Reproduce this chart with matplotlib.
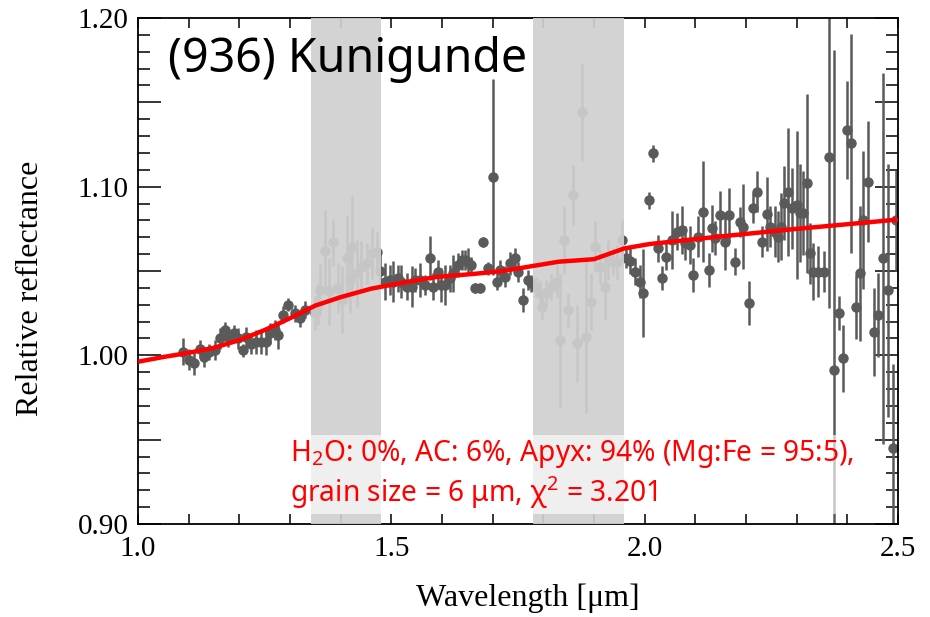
import matplotlib
matplotlib.use("Agg")
import matplotlib.pyplot as plt
import numpy as np
from matplotlib.ticker import MultipleLocator, FuncFormatter

plt.rcParams['mathtext.fontset'] = 'custom'
plt.rcParams['mathtext.rm'] = 'Noto Sans'
plt.rcParams['mathtext.it'] = 'Noto Sans:italic'

# ---------------- data ----------------
wavelength = [
    1.089, 1.101, 1.111, 1.122, 1.131, 1.141, 1.151, 1.161, 1.171, 1.178,
    1.190, 1.197, 1.207, 1.214, 1.224, 1.233, 1.243, 1.253, 1.260, 1.270,
    1.276, 1.286, 1.296, 1.309, 1.319, 1.329,
    1.349, 1.355, 1.359, 1.369, 1.376, 1.385, 1.395, 1.402, 1.412, 1.418,
    1.422, 1.432, 1.441, 1.451, 1.461, 1.471, 1.478,
    1.4875, 1.497, 1.504, 1.514, 1.520, 1.530, 1.540, 1.546, 1.556, 1.566,
    1.576, 1.583, 1.593, 1.599, 1.606, 1.616, 1.622, 1.632, 1.639, 1.645,
    1.652, 1.658, 1.665, 1.675, 1.681, 1.691, 1.701, 1.708, 1.714, 1.724,
    1.734, 1.744, 1.750, 1.760, 1.770, 1.776,
    1.785, 1.793, 1.797, 1.806, 1.816, 1.826, 1.833, 1.841, 1.849, 1.859,
    1.867, 1.877, 1.885, 1.895, 1.902, 1.912, 1.922, 1.928, 1.938, 1.945,
    1.955,
    1.964, 1.971, 1.981, 1.991, 1.997, 2.009, 2.017, 2.027, 2.035, 2.043,
    2.053, 2.063, 2.073, 2.080, 2.089, 2.096, 2.106, 2.116, 2.126, 2.132,
    2.139, 2.149, 2.159, 2.167, 2.178, 2.188, 2.195, 2.205, 2.214, 2.221,
    2.231, 2.241, 2.247, 2.257, 2.264, 2.270, 2.275, 2.283, 2.290, 2.300,
    2.306, 2.313, 2.320, 2.326, 2.333, 2.343, 2.353, 2.364, 2.373, 2.383,
    2.391, 2.400, 2.408, 2.417, 2.425, 2.431, 2.441, 2.453, 2.461, 2.471,
    2.481, 2.491, 2.497,
]
reflectance = [
    1.0022, 0.9975, 0.9955, 1.0040, 0.9990, 1.0020, 1.0030, 1.0100, 1.0150, 1.0110,
    1.0130, 1.0100, 1.0030, 1.0110, 1.0070, 1.0080, 1.0080, 1.0080, 1.0130, 1.0150,
    1.0120, 1.0240, 1.0300, 1.0250, 1.0220, 1.0270,
    1.0250, 1.0300, 1.0390, 1.0620, 1.0380, 1.0670, 1.0400, 1.0330, 1.0580, 1.0450,
    1.0645, 1.0486, 1.0525, 1.0545, 1.0605, 1.0614, 1.0500,
    1.0437, 1.0447, 1.0437, 1.0457, 1.0437, 1.0407, 1.0407, 1.0447, 1.0447, 1.0417,
    1.0575, 1.0407, 1.0496, 1.0417, 1.0417, 1.0457, 1.0486, 1.0535, 1.0565, 1.0565,
    1.0555, 1.0535, 1.0397, 1.0397, 1.0674, 1.0516, 1.1059, 1.0437, 1.0506, 1.0467,
    1.0545, 1.0575, 1.0496, 1.0328, 1.0447, 1.0427,
    1.0407, 1.0368, 1.0288, 1.0368, 1.0407, 1.0437, 1.0090, 1.0684, 1.0269, 1.0951,
    1.0071, 1.1444, 1.0110, 1.0318, 1.0644, 1.0525, 1.0407, 1.0565, 1.0555, 1.0555,
    1.0684,
    1.0575, 1.0560, 1.0496, 1.0437, 1.0368, 1.0920, 1.1198, 1.0634, 1.0457, 1.0585,
    1.0684, 1.0733, 1.0743, 1.0664, 1.0654, 1.0476, 1.0704, 1.0852, 1.0506, 1.0753,
    1.0694, 1.0832, 1.0674, 1.0832, 1.0555, 1.0792, 1.0763, 1.0309, 1.0872, 1.0970,
    1.0674, 1.0838, 1.0763, 1.0733, 1.0704, 1.0763, 1.0905, 1.0970, 1.0872, 1.0891,
    1.0842, 1.0842, 1.1020, 1.0605, 1.0496, 1.0496, 1.0496, 1.1178, 0.9913, 1.0249,
    0.9982, 1.1336, 1.1257, 1.0289, 1.0486, 1.0802, 1.1030, 1.0140, 1.0239, 1.0575,
    1.0387, 0.9450, 1.0800,
]
error = [
    0.008, 0.006, 0.007, 0.005, 0.006, 0.005, 0.006, 0.006, 0.005, 0.006,
    0.005, 0.006, 0.004, 0.006, 0.006, 0.007, 0.007, 0.008, 0.006, 0.006,
    0.008, 0.005, 0.004, 0.005, 0.005, 0.005,
    0.010, 0.012, 0.015, 0.024, 0.020, 0.014, 0.015, 0.020, 0.025, 0.020,
    0.030, 0.020, 0.015, 0.012, 0.015, 0.012, 0.010,
    0.011, 0.009, 0.012, 0.008, 0.010, 0.008, 0.012, 0.007, 0.010, 0.006,
    0.013, 0.008, 0.007, 0.010, 0.012, 0.008, 0.011, 0.007, 0.006, 0.006,
    0.008, 0.005, 0.003, 0.003, 0.003, 0.004, 0.058, 0.005, 0.006, 0.006,
    0.007, 0.006, 0.006, 0.007, 0.006, 0.005,
    0.006, 0.008, 0.008, 0.008, 0.008, 0.010, 0.040, 0.020, 0.010, 0.018,
    0.023, 0.029, 0.045, 0.017, 0.015, 0.010, 0.020, 0.012, 0.008, 0.010,
    0.012,
    0.006, 0.008, 0.008, 0.010, 0.026, 0.005, 0.005, 0.008, 0.007, 0.008,
    0.017, 0.011, 0.014, 0.010, 0.011, 0.010, 0.012, 0.030, 0.010, 0.014,
    0.010, 0.014, 0.017, 0.016, 0.008, 0.009, 0.025, 0.013, 0.009, 0.012,
    0.009, 0.022, 0.012, 0.015, 0.015, 0.020, 0.022, 0.038, 0.024, 0.044,
    0.029, 0.025, 0.053, 0.018, 0.017, 0.015, 0.012, 0.090, 0.190, 0.010,
    0.020, 0.029, 0.065, 0.019, 0.040, 0.041, 0.036, 0.026, 0.025, 0.110,
    0.075, 0.050, 0.030,
]

model_wavelength = [1.00, 1.05, 1.10, 1.15, 1.20, 1.25, 1.30, 1.35, 1.40, 1.46,
                    1.53, 1.59, 1.66, 1.72, 1.79, 1.83, 1.90, 1.96, 2.01, 2.15,
                    2.29, 2.50]
model_reflectance = [0.9962, 0.9990, 1.0015, 1.0045, 1.0090, 1.0150, 1.0220, 1.0295,
                     1.0345, 1.0395, 1.0435, 1.0465, 1.0482, 1.0500, 1.0535, 1.0555,
                     1.0570, 1.0634, 1.0660, 1.0705, 1.0747, 1.0805]

bands = [(1.341, 1.480), (1.779, 1.959)]

title = "(936) Kunigunde"
annotation = ("H$_2$O: 0%, AC: 6%, Apyx: 94% (Mg:Fe = 95:5),\n"
              "grain size = 6 \u03bcm, \u03c7$^2$ = 3.201")

# ---------------- figure ----------------
fig = plt.figure(figsize=(9.30, 6.17), dpi=100)
ax = fig.add_axes([138/930, 1-524/617, 760/930, 506/617])

ax.errorbar(wavelength, reflectance, yerr=error, fmt='o', color='#5a5a5a',
            ecolor='#5a5a5a', elinewidth=1.8, markersize=6.5, capsize=0, zorder=2)

for lo, hi in bands:
    ax.axvspan(lo, hi, color='#d0d0d0', alpha=0.92, lw=0, zorder=3)

ax.plot(model_wavelength, model_reflectance, color='red', lw=3.2, zorder=5,
        solid_capstyle='butt')

ax.set_xlim(1.0, 2.5)
ax.set_ylim(0.90, 1.20)

serif = 'Liberation Serif'
ax.xaxis.set_major_locator(MultipleLocator(0.5))
ax.xaxis.set_minor_locator(MultipleLocator(0.1))
ax.yaxis.set_major_locator(MultipleLocator(0.05))
ax.yaxis.set_minor_locator(MultipleLocator(0.01))
ax.xaxis.set_major_formatter(FuncFormatter(lambda v, p: f"{v:.1f}"))
def yfmt(v, p):
    k = int(round(v * 100))
    return f"{v:.2f}" if k % 10 == 0 else ""
ax.yaxis.set_major_formatter(FuncFormatter(yfmt))

ax.tick_params(axis='x', which='both', direction='in', top=True, bottom=True,
               length=7.5, width=1.1, labelsize=21, pad=9)
ax.tick_params(axis='y', which='major', direction='in', left=True, right=True,
               length=16.5, width=1.1, labelsize=21, pad=7)
ax.tick_params(axis='y', which='minor', direction='in', left=True, right=True,
               length=8.6, width=1.1)
for lab in ax.get_xticklabels() + ax.get_yticklabels():
    lab.set_fontfamily(serif)
for s in ax.spines.values():
    s.set_linewidth(1.3)

ax.text(0.0395, 0.964, title, transform=ax.transAxes, ha='left', va='top',
        fontsize=33.5, family='Noto Sans', zorder=6)

ax.text(0.2, 0.170, annotation, transform=ax.transAxes, ha='left', va='top',
        fontsize=20.3, family='Noto Sans', color='red', linespacing=1.15, zorder=6,
        bbox=dict(boxstyle='square,pad=0.12', facecolor='white', alpha=0.66,
                  edgecolor='none'))

fig.text(528/930, 1-598/617, "Wavelength [\u03bcm]", ha='center', va='center',
         fontsize=23, family=serif)
fig.text(30/930, 1-288/617, "Relative reflectance", ha='center', va='center',
         rotation=90, fontsize=23, family=serif)

fig.savefig("out.png", dpi=100)
